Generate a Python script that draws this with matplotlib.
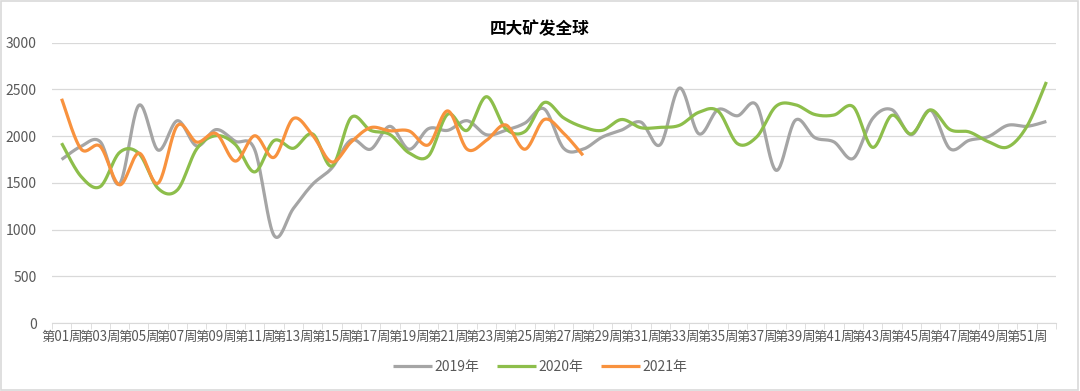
import numpy as np
import matplotlib
matplotlib.use("Agg")
import matplotlib.pyplot as plt
from matplotlib.patches import Rectangle

plt.rcParams['font.family'] = ['Noto Sans CJK SC', 'DejaVu Sans']

# weekly values
weeks = ["第%02d周" % i for i in range(1, 53)]

y2019 = [1750, 1890, 1940, 1490, 2330, 1850, 2165, 1895, 2070, 1945,
         1855, 938, 1225, 1485, 1660, 1960, 1860, 2105, 1860, 2080,
         2062, 2165, 2015, 2062, 2140, 2290, 1870, 1860, 1990, 2065,
         2150, 1908, 2515, 2025, 2285, 2218, 2330, 1634, 2170, 1985,
         1938, 1762, 2188, 2283, 2015, 2277, 1866, 1955, 1995, 2116,
         2105, 2157]

y2020 = [1925, 1570, 1460, 1825, 1815, 1440, 1425, 1864, 2005, 1910,
         1617, 1952, 1870, 2023, 1680, 2200, 2062, 2018, 1820, 1788,
         2235, 2062, 2422, 2080, 2050, 2360, 2195, 2098, 2062, 2178,
         2090, 2094, 2116, 2255, 2268, 1920, 1992, 2320, 2336, 2232,
         2226, 2314, 1880, 2223, 2023, 2280, 2071, 2045, 1940, 1884,
         2107, 2580]

y2021 = [2400, 1864, 1890, 1479, 1818, 1497, 2114, 1936, 2027, 1733,
         2004, 1773, 2188, 2009, 1723, 1938, 2091, 2057, 2055, 1907,
         2270, 1860, 1955, 2120, 1860, 2178, 2030, 1795]

series = [("2019年", y2019, "#A5A5A5"),
          ("2020年", y2020, "#8DBE4B"),
          ("2021年", y2021, "#F8923E")]


def smooth(x, y, n=24):
    # catmull-rom style curve through the points (like excel smoothed lines)
    x = np.asarray(x, float)
    y = np.asarray(y, float)
    px = np.concatenate([[x[0]], x, [x[-1]]])
    py = np.concatenate([[y[0]], y, [y[-1]]])
    xs, ys = [], []
    t = np.linspace(0, 1, n)
    for i in range(1, len(px) - 2):
        p0, p1, p2, p3 = py[i - 1], py[i], py[i + 1], py[i + 2]
        q0, q1, q2, q3 = px[i - 1], px[i], px[i + 1], px[i + 2]
        c1y, c2y = p1 + (p2 - p0) / 6, p2 - (p3 - p1) / 6
        c1x, c2x = q1 + (q2 - q0) / 6, q2 - (q3 - q1) / 6
        b0 = (1 - t) ** 3
        b1 = 3 * (1 - t) ** 2 * t
        b2 = 3 * (1 - t) * t ** 2
        b3 = t ** 3
        xs.append(b0 * q1 + b1 * c1x + b2 * c2x + b3 * q2)
        ys.append(b0 * p1 + b1 * c1y + b2 * c2y + b3 * p2)
    return np.concatenate(xs), np.concatenate(ys)


fig = plt.figure(figsize=(10.8, 3.91), dpi=100)
ax = fig.add_axes([0.0481, 0.1739, 0.9297, 0.7169])

for name, vals, col in series:
    xx, yy = smooth(np.arange(len(vals)), vals)
    ax.plot(xx, yy, color=col, lw=2.3, label=name, solid_capstyle='butt')

ax.set_xlim(-0.5, 51.5)
ax.set_ylim(0, 3000)
ax.set_yticks(np.arange(0, 3001, 500))
ax.grid(axis='y', color='#D9D9D9', lw=0.9)
ax.set_axisbelow(True)

ax.set_xticks(np.arange(0, 52, 2))
ax.set_xticklabels(weeks[::2], fontsize=9.6, color='#595959')
ax.set_xticks(np.arange(-0.5, 52, 1), minor=True)
ax.tick_params(axis='x', which='major', length=0, pad=5)
ax.tick_params(axis='x', which='minor', length=4, color='#D9D9D9')
ax.tick_params(axis='y', length=0, labelsize=10, labelcolor='#595959', pad=11)

for s in ['top', 'right', 'left']:
    ax.spines[s].set_visible(False)
ax.spines['bottom'].set_color('#D9D9D9')

fig.text(0.5, 0.925, "四大矿发全球", ha='center', va='center',
         fontsize=12, fontweight='bold', color='#000000')

fig.legend(loc='center', bbox_to_anchor=(0.5, 0.062), ncol=3, frameon=False,
           fontsize=10, handlelength=2.8, handletextpad=0.15, columnspacing=1.3,
           labelcolor='#595959')

fig.patches.append(Rectangle((0.001, 0.002), 0.997, 0.995, transform=fig.transFigure,
                             fill=False, edgecolor='#D9D9D9', lw=1.2))

fig.savefig("out.png", dpi=100)
